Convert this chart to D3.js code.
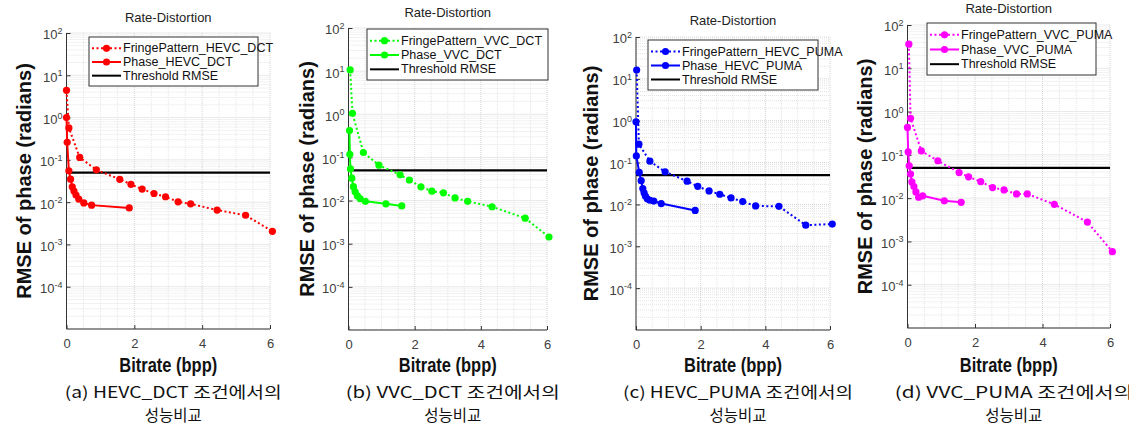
<!DOCTYPE html>
<html><head><meta charset="utf-8">
<script src="https://cdn.jsdelivr.net/npm/d3@7"></script>
<style>
body{margin:0;background:#fff;}
svg{display:block;}
</style></head>
<body>
<svg id="chart" width="1129" height="431"></svg>
<script>
// ---------- data ----------
const bitrateTicks = [0, 2, 4, 6];
const rmseTickExps = [-4, -3, -2, -1, 0, 1, 2];
const thresholdRMSE = 0.05;
const chartTitle = "Rate-Distortion";
const xLabel = "Bitrate (bpp)";
const yLabel = "RMSE of phase (radians)";

const hevcDctFringeX = [0, 0.07, 0.39, 0.88, 1.57, 1.90, 2.23, 2.58, 2.92, 3.29, 3.66, 4.44, 5.28, 6.07];
const hevcDctFringeY = [4.4, 0.57, 0.114, 0.058, 0.0347, 0.0264, 0.0204, 0.016, 0.0134, 0.0102, 0.0091, 0.0065, 0.0049, 0.00204];
const hevcDctPhaseX = [0, 0.02, 0.07, 0.12, 0.17, 0.22, 0.28, 0.36, 0.51, 0.74, 1.85];
const hevcDctPhaseY = [1.0, 0.26, 0.055, 0.035, 0.023, 0.0183, 0.0147, 0.0118, 0.0096, 0.0085, 0.0073];

const vvcDctFringeX = [0.05, 0.12, 0.45, 0.92, 1.56, 1.84, 2.19, 2.52, 2.87, 3.22, 3.60, 4.34, 5.34, 6.06];
const vvcDctFringeY = [10.7, 1.05, 0.13, 0.066, 0.0395, 0.030, 0.0208, 0.0165, 0.0151, 0.0115, 0.0096, 0.0072, 0.0039, 0.00143];
const vvcDctPhaseX = [0.03, 0.04, 0.06, 0.10, 0.15, 0.20, 0.27, 0.35, 0.51, 1.13, 1.61];
const vvcDctPhaseY = [0.42, 0.118, 0.054, 0.033, 0.021, 0.016, 0.0128, 0.0111, 0.0096, 0.0084, 0.0075];

const hevcPumaFringeX = [0.02, 0.09, 0.43, 0.90, 1.58, 1.91, 2.26, 2.59, 2.94, 3.30, 3.70, 4.42, 5.25, 6.07];
const hevcPumaFringeY = [16.2, 0.275, 0.108, 0.060, 0.036, 0.027, 0.021, 0.0175, 0.0143, 0.0117, 0.0092, 0.0090, 0.0032, 0.0034];
const hevcPumaPhaseX = [0, 0.01, 0.10, 0.16, 0.21, 0.25, 0.29, 0.35, 0.43, 0.55, 0.78, 1.83];
const hevcPumaPhaseY = [0.94, 0.144, 0.058, 0.037, 0.024, 0.019, 0.0159, 0.0136, 0.0126, 0.012, 0.0105, 0.0072];

const vvcPumaFringeX = [0.04, 0.09, 0.41, 0.90, 1.53, 1.81, 2.17, 2.52, 2.86, 3.23, 3.55, 4.35, 5.33, 6.07];
const vvcPumaFringeY = [36, 0.70, 0.123, 0.073, 0.039, 0.031, 0.024, 0.0175, 0.0155, 0.0125, 0.0125, 0.0072, 0.0028, 0.00058];
const vvcPumaPhaseX = [0, 0.02, 0.05, 0.09, 0.13, 0.19, 0.25, 0.33, 0.45, 1.09, 1.59];
const vvcPumaPhaseY = [0.43, 0.117, 0.056, 0.036, 0.0237, 0.0186, 0.0139, 0.0105, 0.0113, 0.0087, 0.0080];

const panelNames = ["HEVC_DCT", "VVC_DCT", "HEVC_PUMA", "VVC_PUMA"];
const captionLine1 = ["(a) HEVC_DCT 조건에서의", "(b) VVC_DCT 조건에서의", "(c) HEVC_PUMA 조건에서의", "(d) VVC_PUMA 조건에서의"];
const captionLine2 = ["성능비교", "성능비교", "성능비교", "성능비교"];

// ---------- layout / style ----------
const layout = [
  {l: 66.5, r: 270, t: 33, b: 329, titleY: 22, yl: 24, lg: {x: 89, y: 37, w: 169, h: 49}, capW: 217},
  {l: 348.5, r: 547, t: 28, b: 330, titleY: 17, yl: 307, lg: {x: 367, y: 29, w: 181, h: 51}, capW: 214},
  {l: 636, r: 830, t: 37, b: 330, titleY: 25, yl: 591, lg: {x: 648, y: 40, w: 170, h: 50}, capW: 230},
  {l: 907.5, r: 1110, t: 25, b: 328, titleY: 13, yl: 865, lg: {x: 927, y: 23, w: 169, h: 52}, capW: 238}
];
const colors = ["#ff0000", "#00ff00", "#0000ff", "#ff00ff"];
const seriesData = [
  [hevcDctFringeX, hevcDctFringeY, hevcDctPhaseX, hevcDctPhaseY],
  [vvcDctFringeX, vvcDctFringeY, vvcDctPhaseX, vvcDctPhaseY],
  [hevcPumaFringeX, hevcPumaFringeY, hevcPumaPhaseX, hevcPumaPhaseY],
  [vvcPumaFringeX, vvcPumaFringeY, vvcPumaPhaseX, vvcPumaPhaseY]
];

const svg = d3.select("#chart");
const sans = "'Liberation Sans', Arial, sans-serif";
const cjk = "'Noto Sans CJK KR', sans-serif";

panelNames.forEach((name, i) => {
  const L = layout[i], col = colors[i];
  const [fx, fy, px, py] = seriesData[i];
  const x = d3.scaleLinear().domain([0, 6]).range([L.l, L.r]);
  const y = d3.scaleLog().domain([1e-5, 1e2]).range([L.b, L.t]);
  const g = svg.append("g");

  // grid
  const minorY = [];
  for (let e = -5; e < 2; e++) for (let k = 2; k <= 9; k++) minorY.push(k * Math.pow(10, e));
  g.append("g").selectAll("line").data(minorY).join("line")
    .attr("x1", L.l).attr("x2", L.r).attr("y1", d => y(d)).attr("y2", d => y(d))
    .attr("stroke", "#e4e4e4").attr("stroke-width", 1).attr("stroke-dasharray", "1,1");
  const majorY = d3.range(-5, 3).map(e => Math.pow(10, e));
  g.append("g").selectAll("line").data(majorY).join("line")
    .attr("x1", L.l).attr("x2", L.r).attr("y1", d => y(d)).attr("y2", d => y(d))
    .attr("stroke", "#d2d2d2").attr("stroke-width", 1).attr("stroke-dasharray", "1,1");
  const minorX = d3.range(0.5, 6, 0.5).filter(v => v % 2 !== 0);
  g.append("g").selectAll("line").data(minorX).join("line")
    .attr("x1", d => x(d)).attr("x2", d => x(d)).attr("y1", L.t).attr("y2", L.b)
    .attr("stroke", "#e4e4e4").attr("stroke-width", 1).attr("stroke-dasharray", "1,1");
  g.append("g").selectAll("line").data(bitrateTicks).join("line")
    .attr("x1", d => x(d)).attr("x2", d => x(d)).attr("y1", L.t).attr("y2", L.b)
    .attr("stroke", "#d2d2d2").attr("stroke-width", 1).attr("stroke-dasharray", "1,1");

  // axes
  const xAxis = g.append("g").attr("transform", `translate(0,${L.b})`)
    .call(d3.axisBottom(x).tickValues(bitrateTicks).tickSize(-4).tickPadding(10).tickFormat(d3.format("d")));
  xAxis.select(".domain").attr("stroke", "#333").attr("d", `M${L.l},0H${L.r}`);
  xAxis.selectAll(".tick line").attr("stroke", "#333");
  xAxis.selectAll("text").attr("font-family", sans).attr("font-size", 13).attr("fill", "#404040");

  const yAxis = g.append("g").attr("transform", `translate(${L.l},0)`)
    .call(d3.axisLeft(y).tickValues(rmseTickExps.map(e => Math.pow(10, e))).tickSize(-4).tickPadding(5).tickFormat(""));
  yAxis.select(".domain").attr("stroke", "#333").attr("d", `M0,${L.t}V${L.b}`);
  yAxis.selectAll(".tick line").attr("stroke", "#333");
  yAxis.selectAll(".tick").each(function(d) {
    const t = d3.select(this).select("text").text(null)
      .attr("font-family", sans).attr("font-size", 13).attr("fill", "#404040").attr("x", -4).attr("dy", "0.45em");
    t.append("tspan").text("10");
    t.append("tspan").attr("font-size", 9).attr("dy", "-0.6em").text(String(Math.round(Math.log10(d))));
  });

  // title and labels
  g.append("text").attr("x", (L.l + L.r) / 2).attr("y", L.titleY).attr("text-anchor", "middle")
    .attr("font-family", sans).attr("font-size", 13).attr("fill", "#222").text(chartTitle);
  g.append("text").attr("transform", `translate(${L.yl},${(L.t + L.b) / 2}) rotate(-90)`)
    .attr("text-anchor", "middle").attr("dominant-baseline", "central")
    .attr("font-family", sans).attr("font-weight", "bold").attr("font-size", 20).attr("fill", "#111").text(yLabel);
  g.append("text").attr("x", (L.l + L.r) / 2).attr("y", 372).attr("text-anchor", "middle")
    .attr("font-family", sans).attr("font-weight", "bold").attr("font-size", 20).attr("fill", "#111")
    .attr("textLength", 98).attr("lengthAdjust", "spacingAndGlyphs").text(xLabel);
  g.append("text").attr("x", (L.l + L.r) / 2 + 5).attr("y", 398).attr("text-anchor", "middle")
    .attr("font-family", cjk).attr("font-size", 15.5).attr("fill", "#111")
    .attr("textLength", L.capW).attr("lengthAdjust", "spacingAndGlyphs").text(captionLine1[i]);
  g.append("text").attr("x", (L.l + L.r) / 2 + 5).attr("y", 421).attr("text-anchor", "middle")
    .attr("font-family", cjk).attr("font-size", 15.5).attr("fill", "#111").text(captionLine2[i]);

  // threshold
  g.append("line").attr("x1", L.l).attr("x2", L.r).attr("y1", y(thresholdRMSE)).attr("y2", y(thresholdRMSE))
    .attr("stroke", "#000").attr("stroke-width", 2.2);

  const line = d3.line().x(d => x(d[0])).y(d => y(d[1]));
  const fringe = fx.map((v, k) => [v, fy[k]]);
  const phase = px.map((v, k) => [v, py[k]]);
  g.append("path").datum(fringe).attr("d", line).attr("fill", "none").attr("stroke", col)
    .attr("stroke-width", 2).attr("stroke-dasharray", "2,2.5");
  g.append("path").datum(phase).attr("d", line).attr("fill", "none").attr("stroke", col)
    .attr("stroke-width", 2);
  g.append("g").selectAll("circle").data(fringe.concat(phase)).join("circle")
    .attr("cx", d => x(d[0])).attr("cy", d => y(d[1])).attr("r", 3.6).attr("fill", col);

  // legend
  const lg = g.append("g");
  lg.append("rect").attr("x", L.lg.x).attr("y", L.lg.y).attr("width", L.lg.w).attr("height", L.lg.h)
    .attr("fill", "#fff").attr("stroke", "#333").attr("stroke-width", 1);
  const entries = [
    {label: "FringePattern_" + name, dash: "2,2.5", marker: true, color: col},
    {label: "Phase_" + name, dash: null, marker: true, color: col},
    {label: "Threshold RMSE", dash: null, marker: false, color: "#000"}
  ];
  const rowH = (L.lg.h - 8) / 3;
  entries.forEach((e, k) => {
    const cy = L.lg.y + 4 + rowH * (k + 0.5) + 0.5;
    const x0 = L.lg.x + 3, x1 = L.lg.x + 32;
    const ln = lg.append("line").attr("x1", x0).attr("x2", x1).attr("y1", cy).attr("y2", cy)
      .attr("stroke", e.color).attr("stroke-width", 2);
    if (e.dash) ln.attr("stroke-dasharray", e.dash);
    if (e.marker) lg.append("circle").attr("cx", (x0 + x1) / 2).attr("cy", cy).attr("r", 3.6).attr("fill", e.color);
    lg.append("text").attr("x", x1 + 2).attr("y", cy).attr("dominant-baseline", "central")
      .attr("font-family", sans).attr("font-size", 12.5).attr("fill", "#111").text(e.label);
  });
});
</script>
</body></html>
